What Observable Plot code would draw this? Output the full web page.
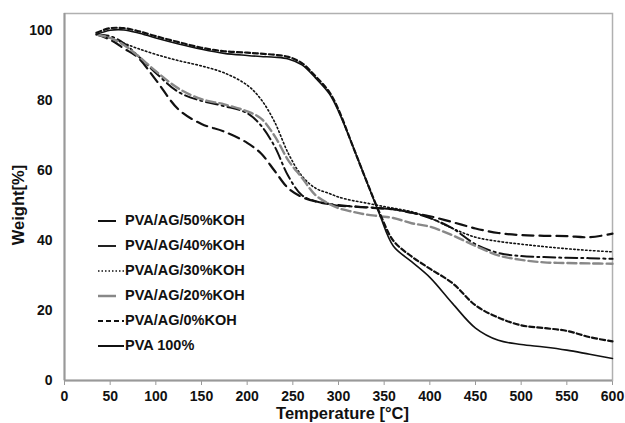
<!DOCTYPE html>
<html>
<head>
<meta charset="utf-8">
<script src="https://cdn.jsdelivr.net/npm/d3@7"></script>
<script src="https://cdn.jsdelivr.net/npm/@observablehq/plot@0.6"></script>
<style>
  html, body { margin: 0; padding: 0; background: #fff; }
  #wrap { position: relative; width: 625px; height: 423px; overflow: hidden; font-family: "Liberation Sans", Arial, sans-serif; }
  #legend { position: absolute; left: 96px; top: 208px; }
  .row { display: flex; align-items: center; height: 25px; }
  .row svg { width: 29px; height: 12px; flex: none; }
  .row span { font-weight: bold; font-size: 14.5px; color: #111; line-height: 1; }
</style>
</head>
<body>
<div id="wrap"></div>
<script>
// Temperature grid [°C]
const temperature = [35, 50, 65, 80, 100, 125, 150, 175, 200, 215, 230, 245, 260, 275, 290, 300, 315, 330, 345, 360, 380, 400, 425, 450, 475, 500, 525, 550, 575, 600];

// Weight [%] per sample
const koh50 = [99, 97.5, 95, 92.5, 86, 77.5, 73.4, 71.2, 68, 65, 60, 55, 52.5, 51.2, 50.5, 50.2, 49.8, 49.5, 49.3, 49, 48, 47, 45.3, 43.5, 42.2, 41.6, 41.4, 41.3, 41, 42];
const koh40 = [99, 98.5, 96.5, 93, 88, 82.5, 80, 78.5, 76.5, 73, 67, 58.5, 53, 51.3, 50.5, 50, 49.8, 49.6, 49.3, 49, 48, 46.5, 43.5, 39, 36.5, 35.6, 35.3, 35.1, 35, 34.8];
const koh30 = [99, 98, 96.5, 95, 93.3, 91.5, 90, 88, 84.5, 80.5, 74, 65, 58.5, 55, 53.5, 52.5, 51.5, 50.8, 50, 49.3, 48.3, 46.5, 43.5, 41, 39.8, 39, 38.3, 37.7, 37.2, 36.8];
const koh20 = [99, 98, 96, 93, 88.5, 83.5, 80.5, 79, 77, 75, 70, 63, 58, 53, 50.5, 49.3, 48.3, 47.5, 47, 46.5, 45, 44, 41.5, 38.5, 35.8, 34.5, 33.8, 33.6, 33.5, 33.4];
const koh0  = [99.5, 100.8, 100.8, 100, 98.5, 96.8, 95.2, 94.2, 93.8, 93.5, 93.2, 92.6, 90.8, 87, 82.5, 77.5, 67.5, 57.5, 48, 40, 35.5, 32, 27.8, 21.5, 18, 15.8, 15, 14.2, 12.4, 11.2];
const pva100 = [99, 100.2, 100.3, 99.5, 98, 96.3, 94.8, 93.6, 93, 92.7, 92.5, 92, 90.3, 86.5, 82, 77, 67.5, 57.5, 47.5, 38.5, 34, 29.5, 22, 15, 11.5, 10.3, 9.6, 8.7, 7.5, 6.3];

const seriesNames = ["PVA/AG/50%KOH", "PVA/AG/40%KOH", "PVA/AG/30%KOH", "PVA/AG/20%KOH", "PVA/AG/0%KOH", "PVA 100%"];
const seriesValues = [koh50, koh40, koh30, koh20, koh0, pva100];

const xTicks = [0, 50, 100, 150, 200, 250, 300, 350, 400, 450, 500, 550, 600];
const yTicks = [0, 20, 40, 60, 80, 100];

// styles (not data)
const styles = [
  {stroke: "#111", dash: "11,6", width: 2.2},
  {stroke: "#111", dash: "12,4,2,4", width: 2},
  {stroke: "#111", dash: "1.5,2.5", width: 1.6},
  {stroke: "#888", dash: "9,4", width: 2.4},
  {stroke: "#111", dash: "5,3", width: 2.2},
  {stroke: "#111", dash: null, width: 1.6}
];

const marks = [Plot.frame({stroke: "#b0b0b0", strokeWidth: 1.5})];
seriesNames.forEach((name, i) => {
  const rows = temperature.map((t, j) => ({t, w: seriesValues[i][j], name}));
  marks.push(Plot.line(rows, {
    x: "t", y: "w", curve: "catmull-rom",
    stroke: styles[i].stroke, strokeWidth: styles[i].width,
    strokeDasharray: styles[i].dash
  }));
});
marks.push(Plot.ruleX([0], {stroke: "#999", strokeWidth: 2}));
marks.push(Plot.ruleY([0], {stroke: "#999", strokeWidth: 2}));

const chart = Plot.plot({
  width: 625, height: 423,
  marginLeft: 64, marginRight: 13, marginTop: 13, marginBottom: 43,
  style: {fontFamily: "'Liberation Sans', Arial, sans-serif", fontSize: "14px", fontWeight: "bold", color: "#111", background: "#fff"},
  x: {domain: [0, 600], ticks: xTicks, tickSize: 5, tickPadding: 6, label: "Temperature [°C]", labelAnchor: "center", labelOffset: 38, labelArrow: "none"},
  y: {domain: [0, 105], ticks: yTicks, tickSize: 0, tickPadding: 12, label: "Weight[%]", labelAnchor: "center", labelOffset: 52, labelArrow: "none"},
  marks
});
chart.querySelectorAll("[aria-label='x-axis tick']").forEach(e => e.setAttribute("stroke", "#999"));
chart.querySelectorAll("[aria-label='x-axis label'], [aria-label='y-axis label']").forEach(e => e.setAttribute("font-size", "16.5px"));
const xl = chart.querySelector("[aria-label='x-axis label'] text");
if (xl) xl.setAttribute("dx", "4");
const yl = chart.querySelector("[aria-label='y-axis label'] text");
if (yl) yl.setAttribute("dx", "-8");
const wrap = document.getElementById("wrap");
wrap.appendChild(chart);

// Legend
const legend = document.createElement("div");
legend.id = "legend";
const legendSamples = [
  {x1: 2, x2: 20, stroke: "#111", dash: null, w: 2},
  {x1: 2, x2: 20, stroke: "#222", dash: null, w: 2},
  {x1: 2, x2: 28, stroke: "#111", dash: "1.5,2", w: 1.5},
  {x1: 2, x2: 20, stroke: "#888", dash: null, w: 2.5},
  {x1: 2, x2: 28, stroke: "#111", dash: "5,3", w: 2},
  {x1: 2, x2: 28, stroke: "#111", dash: null, w: 2}
];
seriesNames.forEach((name, i) => {
  const s = legendSamples[i];
  const row = document.createElement("div");
  row.className = "row";
  row.innerHTML = `<svg viewBox="0 0 29 12"><line x1="${s.x1}" x2="${s.x2}" y1="6" y2="6" stroke="${s.stroke}" stroke-width="${s.w}" ${s.dash ? `stroke-dasharray="${s.dash}"` : ""}/></svg><span>${name}</span>`;
  legend.appendChild(row);
});
wrap.appendChild(legend);
</script>
</body>
</html>
